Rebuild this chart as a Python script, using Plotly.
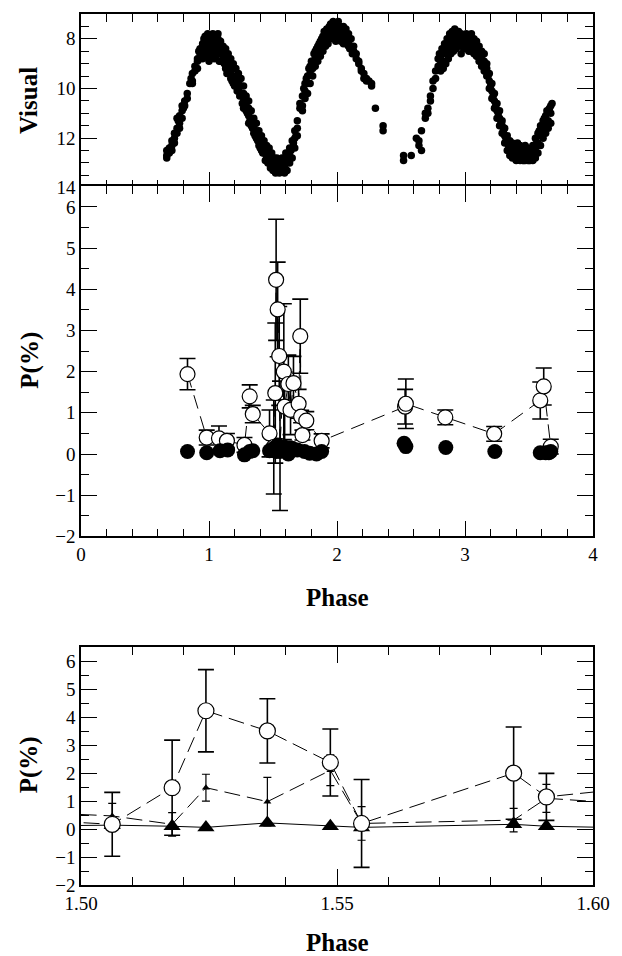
import plotly.graph_objects as go

# ---------------- data ----------------
# Visual light curve (phase, visual magnitude)
vis_phase = [
    0.67, 0.67, 0.67, 0.69, 0.69, 0.71, 0.71, 0.71, 0.73, 0.73, 0.73, 0.75, 0.75, 0.75,
    0.77, 0.77, 0.77, 0.79, 0.79, 0.79, 0.81, 0.81, 0.83, 0.83, 0.85, 0.87, 0.87, 0.87,
    0.89, 0.89, 0.91, 0.91, 0.91, 0.93, 0.93, 0.93, 0.95, 0.95, 0.95, 0.95,
    0.97, 0.97, 0.97, 0.97, 0.99, 0.99, 0.99, 0.99, 1.01, 1.01, 1.01, 1.01,
    1.03, 1.03, 1.03, 1.03, 1.05, 1.05, 1.05, 1.05, 1.07, 1.07, 1.07, 1.07,
    1.09, 1.09, 1.09, 1.09, 1.11, 1.11, 1.11, 1.13, 1.13, 1.13, 1.13, 1.15, 1.15, 1.15,
    1.17, 1.17, 1.17, 1.17, 1.19, 1.19, 1.19, 1.19, 1.21, 1.21, 1.21, 1.23, 1.23, 1.23,
    1.25, 1.25, 1.25, 1.27, 1.27, 1.27, 1.27, 1.29, 1.29, 1.29, 1.31, 1.31, 1.31, 1.31,
    1.33, 1.33, 1.33, 1.35, 1.35, 1.35, 1.37, 1.37, 1.37, 1.39, 1.39, 1.39,
    1.41, 1.41, 1.41, 1.43, 1.43, 1.43, 1.45, 1.45, 1.45, 1.47, 1.47, 1.47,
    1.49, 1.49, 1.49, 1.51, 1.51, 1.51, 1.53, 1.53, 1.53, 1.55, 1.55, 1.55,
    1.57, 1.57, 1.57, 1.59, 1.59, 1.59, 1.61, 1.61, 1.61, 1.63, 1.63, 1.63,
    1.65, 1.65, 1.65, 1.67, 1.67, 1.67, 1.69, 1.69, 1.69, 1.71, 1.71, 1.73, 1.73, 1.73,
    1.75, 1.75, 1.75, 1.77, 1.77, 1.77, 1.79, 1.79, 1.79, 1.81, 1.81, 1.81,
    1.83, 1.83, 1.83, 1.85, 1.85, 1.85, 1.87, 1.87, 1.87, 1.89, 1.89, 1.89,
    1.91, 1.91, 1.91, 1.93, 1.93, 1.93, 1.95, 1.95, 1.95, 1.97, 1.97, 1.97,
    1.99, 1.99, 1.99, 2.01, 2.01, 2.01, 2.03, 2.03, 2.03, 2.05, 2.05, 2.05,
    2.07, 2.07, 2.07, 2.09, 2.09, 2.09, 2.11, 2.11, 2.13, 2.13, 2.15, 2.15,
    2.17, 2.17, 2.19, 2.19, 2.21, 2.21, 2.23, 2.23, 2.25, 2.27, 2.27, 2.30,
    2.36, 2.36,
    2.52, 2.52, 2.58, 2.62, 2.64, 2.64, 2.66, 2.66, 2.69, 2.69, 2.71, 2.71,
    2.73, 2.73, 2.75, 2.75, 2.77, 2.77, 2.79, 2.79, 2.81, 2.81, 2.81,
    2.83, 2.83, 2.83, 2.85, 2.85, 2.85, 2.87, 2.87, 2.87, 2.89, 2.89, 2.89,
    2.91, 2.91, 2.91, 2.93, 2.93, 2.93, 2.95, 2.95, 2.95, 2.97, 2.97, 2.97,
    2.99, 2.99, 2.99, 3.01, 3.01, 3.01, 3.03, 3.03, 3.03, 3.05, 3.05, 3.05,
    3.07, 3.07, 3.07, 3.09, 3.09, 3.09, 3.11, 3.11, 3.11, 3.13, 3.13, 3.13,
    3.15, 3.15, 3.15, 3.17, 3.17, 3.17, 3.19, 3.19, 3.19, 3.21, 3.21, 3.21,
    3.23, 3.23, 3.23, 3.25, 3.25, 3.25, 3.27, 3.27, 3.27, 3.29, 3.29, 3.29,
    3.31, 3.31, 3.31, 3.33, 3.33, 3.33, 3.35, 3.35, 3.35, 3.37, 3.37, 3.37,
    3.39, 3.39, 3.39, 3.41, 3.41, 3.41, 3.43, 3.43, 3.43, 3.45, 3.45, 3.45,
    3.47, 3.47, 3.47, 3.49, 3.49, 3.49, 3.51, 3.51, 3.51, 3.53, 3.53, 3.53,
    3.55, 3.55, 3.55, 3.57, 3.57, 3.57, 3.59, 3.59, 3.59, 3.61, 3.61, 3.61,
    3.63, 3.63, 3.63, 3.65, 3.65, 3.65, 3.67, 3.67, 3.67, 3.68,
    # additional scattered estimates (second pass, offset columns)
    0.68, 0.72, 0.76, 0.80, 0.86, 0.92, 0.96, 0.98, 1.00, 1.02, 1.04, 1.06, 1.08,
    1.10, 1.12, 1.14, 1.16, 1.18, 1.20, 1.22, 1.24, 1.26, 1.28, 1.30, 1.32, 1.34,
    1.36, 1.38, 1.40, 1.42, 1.44, 1.46, 1.48, 1.50, 1.52, 1.54, 1.56, 1.58, 1.60,
    1.62, 1.64, 1.66, 1.68, 1.74, 1.76, 1.78, 1.80, 1.82, 1.84, 1.86, 1.88, 1.90,
    1.92, 1.94, 1.96, 1.98, 2.00, 2.02, 2.04, 2.06, 2.08, 2.10, 2.12,
    2.80, 2.82, 2.84, 2.86, 2.88, 2.90, 2.92, 2.94, 2.96, 2.98, 3.00, 3.02, 3.04,
    3.06, 3.08, 3.10, 3.12, 3.14, 3.16, 3.18, 3.20, 3.22, 3.24, 3.26, 3.28, 3.30,
    3.32, 3.34, 3.36, 3.38, 3.40, 3.42, 3.44, 3.46, 3.48, 3.50, 3.52, 3.54, 3.56,
    3.58, 3.60, 3.62, 3.64, 3.66,
]
vis_mag = [
    12.5, 12.7, 12.8, 12.4, 12.6, 12.1, 12.3, 12.5, 11.8, 12.0, 12.2, 11.6, 11.8, 11.2,
    11.1, 11.4, 11.6, 10.7, 10.9, 11.2, 10.5, 10.7, 10.2, 10.4, 9.8, 9.4, 9.7, 9.8,
    9.1, 9.3, 8.8, 8.9, 9.2, 8.4, 8.6, 8.8, 8.2, 8.4, 8.6, 8.8,
    7.9, 8.2, 8.4, 8.7, 7.8, 8.0, 8.3, 8.5, 8.0, 8.2, 8.4, 8.7,
    7.8, 8.1, 8.3, 8.6, 7.9, 8.2, 8.5, 8.7, 7.8, 8.0, 8.3, 8.6,
    8.1, 8.4, 8.6, 8.9, 8.3, 8.5, 8.8, 8.4, 8.7, 9.0, 9.2, 8.6, 8.9, 9.2,
    8.8, 9.1, 9.3, 9.6, 9.0, 9.2, 9.5, 9.8, 9.2, 9.5, 9.7, 9.4, 9.7, 10.0,
    9.6, 9.9, 10.2, 9.9, 10.2, 10.5, 10.8, 10.3, 10.6, 10.9, 10.5, 10.8, 11.1, 11.4,
    10.9, 11.2, 11.5, 11.2, 11.5, 11.8, 11.4, 11.7, 12.0, 11.7, 12.0, 12.3,
    11.9, 12.2, 12.5, 12.1, 12.4, 12.6, 12.3, 12.6, 12.8, 12.4, 12.7, 12.9,
    12.6, 12.9, 13.1, 12.8, 13.0, 13.2, 12.8, 13.1, 13.3, 12.9, 13.2, 13.4,
    12.8, 13.1, 13.3, 12.9, 13.2, 13.4, 12.7, 13.0, 13.3, 12.4, 12.7, 13.0,
    12.1, 12.4, 12.8, 11.7, 12.0, 12.4, 11.3, 11.6, 11.9, 10.6, 10.8, 10.7, 10.9, 10.3,
    9.8, 10.1, 10.4, 9.5, 9.8, 10.2, 9.1, 9.4, 9.8, 8.9, 9.2, 9.5,
    8.5, 8.8, 9.1, 8.3, 8.6, 8.9, 8.1, 8.4, 8.7, 7.9, 8.2, 8.5,
    7.8, 8.0, 8.3, 7.6, 7.9, 8.2, 7.4, 7.7, 8.0, 7.3, 7.6, 7.9,
    7.4, 7.7, 8.1, 7.3, 7.6, 7.9, 7.5, 7.8, 8.1, 7.5, 7.8, 8.2,
    7.6, 7.9, 8.2, 7.8, 8.1, 8.3, 8.0, 8.3, 8.3, 8.5, 8.6, 8.8,
    8.9, 9.0, 9.2, 9.3, 9.4, 9.6, 9.6, 9.7, 9.7, 9.8, 9.9, 10.8,
    11.5, 11.7,
    12.7, 12.9, 12.7, 12.0, 12.1, 12.3, 11.7, 12.5, 11.0, 11.2, 10.8, 11.0,
    10.3, 10.5, 9.7, 10.0, 9.3, 9.6, 8.8, 9.1, 8.7, 9.0, 9.3,
    8.5, 8.9, 9.2, 8.3, 8.6, 9.0, 8.1, 8.5, 8.8, 8.0, 8.3, 8.6,
    7.9, 8.2, 8.5, 7.8, 8.1, 8.4, 7.7, 8.0, 8.3, 7.8, 8.1, 8.6,
    7.9, 8.2, 8.4, 7.8, 8.1, 8.4, 7.9, 8.2, 8.5, 7.8, 8.1, 8.5,
    8.0, 8.3, 8.6, 8.1, 8.4, 8.7, 8.3, 8.6, 8.9, 8.5, 8.8, 9.1,
    8.6, 8.9, 9.3, 9.0, 9.2, 9.5, 9.4, 9.7, 10.0, 9.8, 10.1, 10.4,
    10.2, 10.5, 10.8, 10.6, 10.9, 11.2, 10.9, 11.2, 11.5, 11.3, 11.5, 11.8,
    11.6, 11.9, 12.2, 11.9, 12.2, 12.5, 12.1, 12.4, 12.7, 12.2, 12.5, 12.8,
    12.3, 12.6, 12.8, 12.2, 12.5, 12.8, 12.3, 12.6, 12.9, 12.4, 12.7, 12.9,
    12.3, 12.6, 12.9, 12.4, 12.7, 12.9, 12.5, 12.8, 12.9, 12.3, 12.6, 12.9,
    12.0, 12.4, 12.8, 11.8, 12.2, 12.6, 11.5, 11.9, 12.3, 11.3, 11.7, 12.0,
    11.1, 11.5, 11.8, 10.9, 11.3, 11.6, 10.7, 11.0, 11.4, 10.6,
    # additional scattered estimates
    12.6, 12.2, 11.3, 10.8, 9.6, 8.5, 8.0, 8.6, 8.9, 8.5, 8.8, 8.4, 8.9,
    8.6, 9.0, 9.4, 9.4, 9.7, 9.9, 10.1, 10.3, 10.6, 10.7, 11.0, 11.3, 11.6,
    11.9, 12.1, 12.4, 12.6, 12.9, 13.0, 13.2, 13.3, 13.4, 13.0, 13.3, 12.9, 12.6,
    12.9, 12.5, 12.2, 11.9, 10.0, 9.6, 9.2, 8.9, 8.6, 8.4, 8.2, 8.0, 7.7,
    7.6, 7.5, 7.4, 7.5, 7.6, 7.7, 7.9, 8.0, 8.2, 8.4, 8.6,
    8.6, 8.4, 8.2, 8.0, 7.8, 7.7, 7.6, 7.8, 7.9, 8.0, 7.9, 8.3, 8.1,
    8.4, 8.5, 8.7, 8.9, 9.0, 9.3, 9.5, 9.9, 10.3, 10.7, 11.0, 11.4, 11.7,
    12.0, 12.3, 12.6, 12.7, 12.9, 12.7, 12.8, 12.9, 12.8, 12.9, 12.7, 12.6, 12.2,
    11.7, 11.5, 11.2, 10.9, 10.8,
]

# Total polarization (open circles) with errors
pol_phase = [0.832, 0.982, 1.078, 1.140, 1.277, 1.318, 1.342, 1.473,
             1.5061, 1.5178, 1.5244, 1.5364, 1.5487, 1.5548, 1.5845, 1.5909,
             1.620, 1.637, 1.660, 1.700, 1.713, 1.720, 1.730, 1.760, 1.880,
             2.532, 2.538, 2.846, 3.228, 3.588, 3.615, 3.670]
pol_val = [1.94, 0.40, 0.38, 0.32, 0.22, 1.40, 0.97, 0.50,
           0.17, 1.48, 4.23, 3.51, 2.38, 0.20, 2.00, 1.15,
           1.70, 1.07, 1.72, 1.22, 2.86, 0.91, 0.46, 0.81, 0.32,
           1.15, 1.22, 0.89, 0.49, 1.30, 1.64, 0.18]
pol_err = [0.38, 0.18, 0.30, 0.18, 0.18, 0.28, 0.21, 0.57,
           1.14, 1.70, 1.47, 1.15, 1.20, 1.57, 1.65, 0.84,
           0.70, 0.60, 0.65, 0.35, 0.90, 0.15, 0.12, 0.22, 0.17,
           0.42, 0.60, 0.18, 0.18, 0.45, 0.45, 0.18]

# Low polarization component (filled circles / large triangles)
low_phase = [0.832, 0.982, 1.086, 1.146, 1.277, 1.318, 1.342, 1.473,
             1.5061, 1.5178, 1.5244, 1.5364, 1.5487, 1.5548, 1.5845, 1.5909,
             1.620, 1.650, 1.690, 1.746, 1.787, 1.840, 1.880,
             2.524, 2.538, 2.850, 3.233, 3.588, 3.630, 3.655, 3.670]
low_val = [0.06, 0.03, 0.08, 0.10, -0.02, 0.06, 0.08, 0.08,
           0.14, 0.10, 0.06, 0.22, 0.10, 0.06, 0.17, 0.10,
           0.00, 0.14, 0.10, 0.06, 0.02, 0.00, 0.06,
           0.26, 0.18, 0.16, 0.06, 0.03, 0.03, 0.03, 0.06]

# Intermediate component (small triangles), zoomed panel
mid_phase = [1.473, 1.5061, 1.5178, 1.5244, 1.5364, 1.5487, 1.5548, 1.5845, 1.5909, 1.620]
mid_val = [0.75, 0.47, 0.17, 1.48, 0.98, 2.10, 0.20, 0.32, 1.10, 0.75]
mid_err = [0.30, 0.45, 0.42, 0.48, 0.87, 0.55, 0.60, 0.42, 0.50, 0.30]

# ---------------- layout helpers ----------------
W, H = 622, 956
ML, MR, MT, MB = 81, 18, 13, 71
PH = H - MT - MB
FONT = "Liberation Serif, Times New Roman, serif"


def ypaper(px):
    return (H - MB - px) / PH


def xpaper(px):
    return (px - ML) / (W - ML - MR)


axis_common = dict(
    showline=True, linecolor="black", linewidth=1.5, mirror="allticks",
    ticks="inside", ticklen=16, tickwidth=1.2, tickcolor="black",
    showgrid=False, zeroline=False,
    tickfont=dict(family=FONT, size=19, color="black"),
)


def minor(dt, t0=0):
    return dict(dtick=dt, tick0=t0, ticklen=8, tickwidth=1.2,
                ticks="inside", tickcolor="black", showgrid=False)


fig = go.Figure()

# Panel 1: visual light curve
fig.add_trace(go.Scatter(
    x=vis_phase, y=vis_mag, mode="markers", xaxis="x", yaxis="y",
    marker=dict(size=7.5, color="black"), showlegend=False))

# Panel 2: polarization vs phase
fig.add_trace(go.Scatter(
    x=pol_phase, y=pol_val, mode="lines+markers", xaxis="x2", yaxis="y2",
    line=dict(color="black", width=1, dash="14px,8px"),
    marker=dict(size=15, color="white", line=dict(color="black", width=1.2)),
    error_y=dict(type="data", array=pol_err, visible=True, color="black",
                 thickness=1.6, width=8),
    showlegend=False))
fig.add_trace(go.Scatter(
    x=low_phase, y=low_val, mode="markers", xaxis="x2", yaxis="y2",
    marker=dict(size=15, color="black"), showlegend=False))

# Panel 3: zoom 1.50-1.60
fig.add_trace(go.Scatter(
    x=low_phase, y=low_val, mode="lines+markers", xaxis="x3", yaxis="y3",
    line=dict(color="black", width=1),
    marker=dict(size=15, color="black", symbol="triangle-up"), showlegend=False))
fig.add_trace(go.Scatter(
    x=mid_phase, y=mid_val, mode="lines+markers", xaxis="x3", yaxis="y3",
    line=dict(color="black", width=1, dash="16px,7px"),
    marker=dict(size=7, color="black", symbol="triangle-up"),
    error_y=dict(type="data", array=mid_err, visible=True, color="black",
                 thickness=1.2, width=4),
    showlegend=False))
fig.add_trace(go.Scatter(
    x=pol_phase, y=pol_val, mode="lines+markers", xaxis="x3", yaxis="y3",
    line=dict(color="black", width=1, dash="16px,7px"),
    marker=dict(size=16, color="white", line=dict(color="black", width=1.2)),
    error_y=dict(type="data", array=pol_err, visible=True, color="black",
                 thickness=1.6, width=8),
    showlegend=False))

top_dom = [ypaper(187), ypaper(13)]
mid_dom = [ypaper(536), ypaper(185.5)]
bot_dom = [ypaper(885), ypaper(647)]

fig.update_layout(
    width=W, height=H,
    margin=dict(l=ML, r=MR, t=MT, b=MB),
    paper_bgcolor="white", plot_bgcolor="white",
    font=dict(family=FONT, color="black"),
    xaxis=dict(axis_common, domain=[0, 1], anchor="y", range=[0, 4],
               tickvals=[0, 1, 2, 3, 4], showticklabels=False, minor=minor(0.2)),
    yaxis=dict(axis_common, domain=top_dom, anchor="x", range=[14, 7],
               tickvals=[8, 10, 12, 14], minor=minor(0.5)),
    xaxis2=dict(axis_common, domain=[0, 1], anchor="y2", range=[0, 4],
                tickvals=[0, 1, 2, 3, 4], minor=minor(0.2)),
    yaxis2=dict(axis_common, domain=mid_dom, anchor="x2", range=[-2, 6.5],
                tickvals=[-2, -1, 0, 1, 2, 3, 4, 5, 6], minor=minor(0.5)),
    xaxis3=dict(axis_common, domain=[0, 1], anchor="y3", range=[1.5, 1.6],
                tickvals=[1.50, 1.55, 1.60], ticktext=["1.50", "1.55", "1.60"],
                minor=minor(0.01, 1.5)),
    yaxis3=dict(axis_common, domain=bot_dom, anchor="x3", range=[-2, 6.5],
                tickvals=[-2, -1, 0, 1, 2, 3, 4, 5, 6], minor=minor(0.5)),
)

title_font = dict(family=FONT, size=25, color="black")
for txt, xp, yp, ang in [("Visual", 28, 100, -90), ("P(%)", 28, 360, -90),
                         ("P(%)", 28, 765, -90), ("Phase", 343, 597, 0),
                         ("Phase", 343, 943, 0)]:
    fig.add_annotation(text="<b>" + txt + "</b>", xref="paper", yref="paper",
                       x=xpaper(xp), y=ypaper(yp), textangle=ang, showarrow=False,
                       font=title_font, xanchor="center", yanchor="middle")

fig.write_html("out.html")
